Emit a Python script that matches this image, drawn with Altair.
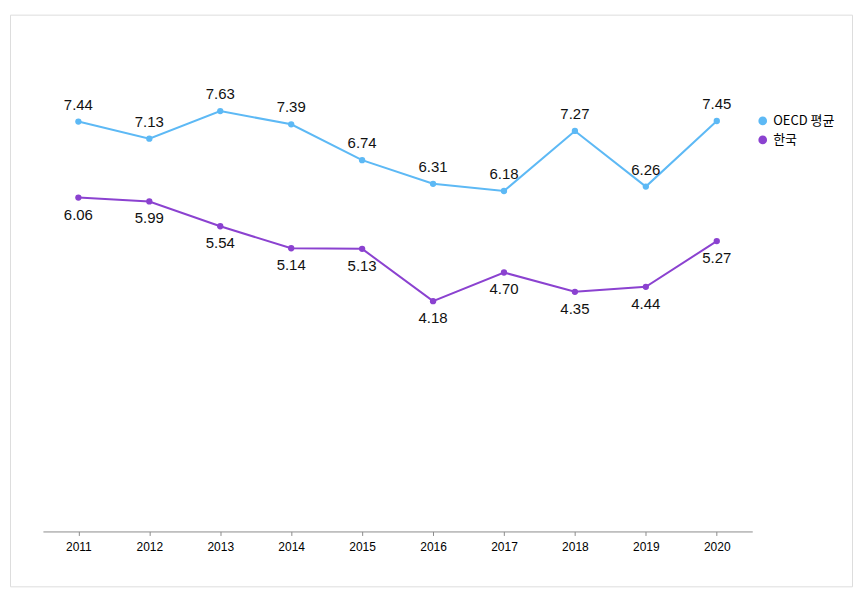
import altair as alt
import pandas as pd

years = ["2011", "2012", "2013", "2014", "2015", "2016", "2017", "2018", "2019", "2020"]
oecd = [7.44, 7.13, 7.63, 7.39, 6.74, 6.31, 6.18, 7.27, 6.26, 7.45]
korea = [6.06, 5.99, 5.54, 5.14, 5.13, 4.18, 4.70, 4.35, 4.44, 5.27]
series_names = ["OECD 평균", "한국"]
colors = ["#5DB9F5", "#8B42D0"]

rows = []
for i, yr in enumerate(years):
    rows.append({"year": yr, "series": series_names[0], "value": oecd[i]})
    rows.append({"year": yr, "series": series_names[1], "value": korea[i]})
df = pd.DataFrame(rows)

x = alt.X(
    "year:O",
    scale=alt.Scale(type="point", range=[33, 744], padding=0.5),
    axis=alt.Axis(
        title=None, labelAngle=0, offset=-55, domainColor="#8C8C8C", tickColor="#8C8C8C",
        tickSize=4, labelFont="Liberation Sans", labelFontSize=12, labelPadding=6,
        labelColor="#000000", domainWidth=1,
    ),
)
y = alt.Y("value:Q", scale=alt.Scale(domain=[0, 9], range=[518, 21]), axis=None)
color = alt.Color(
    "series:N",
    scale=alt.Scale(domain=series_names, range=colors),
    legend=alt.Legend(
        title=None, orient="none", legendX=748, legendY=100, symbolType="circle",
        symbolSize=75, labelFont="Noto Sans CJK KR", labelFontSize=13, rowPadding=5,
        labelColor="#000000", symbolStrokeWidth=0, labelOffset=4,
    ),
)

base = alt.Chart(df)
points = base.mark_point(filled=True, size=40, opacity=1).encode(x=x, y=y, color=color)
lines = base.mark_line(strokeWidth=2).encode(x=x, y=y, color=color)
labels_above = base.transform_filter(alt.datum.series == series_names[0]).mark_text(
    dy=-17, font="Liberation Sans", fontSize=15, color="#111111"
).encode(x=x, y=y, text=alt.Text("value:Q", format=".2f"))
labels_below = base.transform_filter(alt.datum.series == series_names[1]).mark_text(
    dy=17, font="Liberation Sans", fontSize=15, color="#111111"
).encode(x=x, y=y, text=alt.Text("value:Q", format=".2f"))

chart = (
    alt.layer(points, lines, labels_above, labels_below)
    .properties(width=844, height=573, padding={"left": 2, "top": 6, "right": 2, "bottom": 2})
    .configure_view(stroke="#A0A0A0", strokeWidth=2)
    .configure(background="white")
)

chart.save("out.html", embed_options={"renderer": "svg", "actions": False})
